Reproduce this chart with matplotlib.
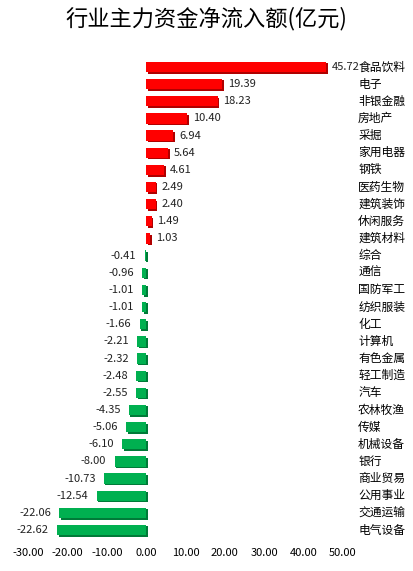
import matplotlib.pyplot as plt
import matplotlib.transforms as mtransforms
import numpy as np

plt.rcParams['font.family'] = ['Noto Sans CJK SC', 'DejaVu Sans']

# 行业及主力资金净流入额(亿元)
industries = ["食品饮料", "电子", "非银金融", "房地产", "采掘", "家用电器", "钢铁",
              "医药生物", "建筑装饰", "休闲服务", "建筑材料", "综合", "通信", "国防军工",
              "纺织服装", "化工", "计算机", "有色金属", "轻工制造", "汽车", "农林牧渔",
              "传媒", "机械设备", "银行", "商业贸易", "公用事业", "交通运输", "电气设备"]
net_flow = [45.72, 19.39, 18.23, 10.40, 6.94, 5.64, 4.61, 2.49, 2.40, 1.49, 1.03,
            -0.41, -0.96, -1.01, -1.01, -1.66, -2.21, -2.32, -2.48, -2.55, -4.35,
            -5.06, -6.10, -8.00, -10.73, -12.54, -22.06, -22.62]
x_ticks = [-30, -20, -10, 0, 10, 20, 30, 40, 50]

fig = plt.figure(figsize=(4.13, 5.71), dpi=100)
ax = fig.add_axes([0.0678, 0.0567, 0.7627, 0.841])

y = np.arange(len(industries))
vals = np.array(net_flow)
face = np.where(vals >= 0, "#FF0000", "#00B050")
dark = np.where(vals >= 0, "#B00000", "#007A38")

# 阴影(立体效果)
shadow = mtransforms.offset_copy(ax.transData, fig=fig, x=1.5, y=-1.5, units="dots")
ax.barh(y, vals, height=0.6, color=dark, transform=shadow)
ax.barh(y, vals, height=0.6, color=face)

for yi, v in zip(y, vals):
    if v >= 0:
        ax.annotate(f"{v:.2f}", (v, yi), xytext=(4, 0), textcoords="offset points",
                    ha="left", va="center", fontsize=8, color="#222222")
    else:
        ax.annotate(f"{v:.2f}", (v, yi), xytext=(-6, 0), textcoords="offset points",
                    ha="right", va="center", fontsize=8, color="#222222")

trans = mtransforms.blended_transform_factory(ax.transAxes, ax.transData)
for yi, name in zip(y, industries):
    ax.text(1.048, yi, name, transform=trans, ha="left", va="center", fontsize=8.5)

ax.set_xlim(-30, 50)
ax.set_ylim(len(industries) - 0.5, -0.5)
ax.set_xticks(x_ticks)
ax.set_xticklabels([f"{t:.2f}" for t in x_ticks], fontsize=8)
ax.tick_params(axis="x", length=0, pad=7)
ax.set_yticks([])
for s in ax.spines.values():
    s.set_visible(False)

fig.text(0.5, 0.968, "行业主力资金净流入额(亿元)", ha="center", va="center", fontsize=16)

fig.savefig("out.png", dpi=100)
